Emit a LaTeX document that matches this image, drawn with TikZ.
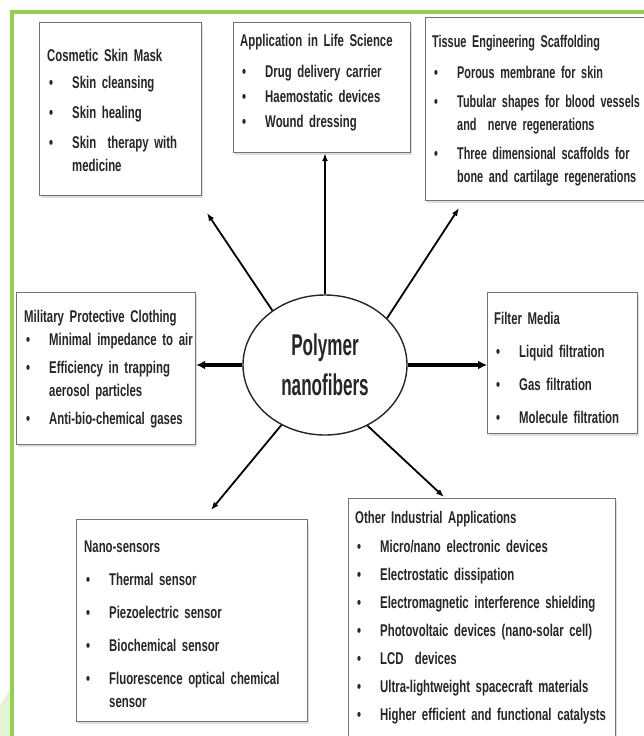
\documentclass[tikz,border=0pt]{standalone}
\usepackage{fontspec}
\setmainfont{Liberation Sans}[FakeStretch=0.67]
\newfontfamily\tissfont{Liberation Sans}[FakeStretch=0.64]
\newfontfamily\bigfont{Liberation Sans}[FakeStretch=0.57]
\usetikzlibrary{arrows.meta,shadows,shapes.geometric}
\definecolor{framegreen}{RGB}{146,208,80}
\newlength\tgap
\newlength\igap
\newcommand{\bodyfont}{\bfseries\fontsize{17}{23}\selectfont}
\newcommand{\itm}[1][\igap]{\par\vspace{#1}\noindent\makebox[25pt][l]{\hspace{2pt}\textbullet}}
\newcommand{\cnt}{\par\noindent\hspace*{25pt}}
\tikzset{
	box/.style={draw=black!55, line width=1.2pt, fill=white, anchor=north west, inner sep=0pt,
		drop shadow={shadow xshift=1.5pt, shadow yshift=-2pt, fill=black!25}},
	txt/.style={anchor=base west, inner sep=0pt, text width=280pt, text=black!85, font=\bodyfont},
	arr/.style={line width=1.8pt, -{Latex[length=8pt,width=6pt]}},
	bigarr/.style={line width=3.5pt, -{Latex[length=9pt,width=9pt]}},
}
\begin{document}
\begin{tikzpicture}[x=1pt,y=-1pt]
			\useasboundingbox (0,0) rectangle (644,736);
			\fill[white] (0,0) rectangle (644,736);
			% green frame
			\fill[framegreen!25] (0,705) -- (10,690) -- (10,736) -- (0,736) -- cycle;
			\draw[framegreen, line width=3.5pt] (644,12) -- (12,12) -- (12,736);
			% boxes
			\node[box, minimum width=162pt, minimum height=173pt] (cosm) at (39,22) {};
			\node[box, minimum width=177pt, minimum height=130pt] (life) at (233,22) {};
			\node[box, minimum width=230pt, minimum height=183pt] (tiss) at (425,17) {};
			\node[box, minimum width=179pt, minimum height=152pt] (mil) at (16,292) {};
			\node[box, minimum width=150pt, minimum height=141pt] (filt) at (487,292) {};
			\node[box, minimum width=231pt, minimum height=202pt] (nano) at (76,519) {};
			\node[box, minimum width=267pt, minimum height=245pt] (othr) at (348,498) {};
			% texts
			\node[txt] (cosmT) at (47,61) {\setlength\tgap{4pt}\setlength\igap{7pt}%
				Cosmetic Skin Mask\itm[\tgap]Skin cleansing\itm Skin healing\itm Skin\ \ therapy with\cnt medicine};
			\node[txt] (lifeT) at (240,46) {\setlength\tgap{8pt}\setlength\igap{2pt}%
				Application in Life Science\itm[\tgap]Drug delivery carrier\itm Haemostatic devices\itm Wound dressing};
			\node[txt, font=\tissfont\bodyfont] (tissT) at (432,47) {\setlength\tgap{8pt}\setlength\igap{6pt}%
				Tissue Engineering Scaffolding\itm[\tgap]Porous membrane for skin\itm Tubular shapes for blood vessels\cnt and\ \ nerve regenerations\itm Three dimensional scaffolds for\cnt bone and cartilage regenerations};
			\node[txt] (milT) at (24,322) {\setlength\tgap{0pt}\setlength\igap{5pt}%
				Military Protective Clothing\itm[\tgap]Minimal impedance to air\itm Efficiency in trapping\cnt aerosol particles\itm Anti-bio-chemical gases};
			\node[txt] (filtT) at (494,324) {\setlength\tgap{10pt}\setlength\igap{10pt}%
				Filter Media\itm[\tgap]Liquid filtration\itm Gas filtration\itm Molecule filtration};
			\node[txt] (nanoT) at (84,552) {\setlength\tgap{10pt}\setlength\igap{10pt}%
				Nano-sensors\itm[\tgap]Thermal sensor\itm Piezoelectric sensor\itm Biochemical sensor\itm Fluorescence optical chemical\cnt sensor};
			\node[txt] (othrT) at (355,523) {\setlength\tgap{6pt}\setlength\igap{5pt}%
				Other Industrial Applications\itm[\tgap]Micro/nano electronic devices\itm Electrostatic dissipation\itm Electromagnetic interference shielding\itm Photovoltaic devices (nano-solar cell)\itm LCD\ \ devices\itm Ultra-lightweight spacecraft materials\itm Higher efficient and functional catalysts};
			% centre
			\node[draw=black!85, line width=1.4pt, fill=white, ellipse, minimum width=164pt, minimum height=140pt, inner sep=0pt,
				align=center, text=black!85, font=\bigfont\bfseries\fontsize{30}{40}\selectfont] (poly) at (325,365) {Polymer\\nanofibers};
			% arrow ends
			\coordinate (tcosm) at (207,213);
			\coordinate (ttiss) at (459,208);
			\coordinate (tnano) at (211,510);
			\coordinate (tothr) at (444,497);
			\draw[arr] (poly.134) -- (tcosm);
			\draw[arr] (poly.north) -- (poly.north |- life.south);
			\draw[arr] (poly.37) -- (ttiss);
			\draw[bigarr] (poly.west) -- (poly.west -| mil.east);
			\draw[bigarr] (poly.east) -- (poly.east -| filt.west);
			\draw[arr] (poly.234) -- (tnano);
			\draw[arr] (poly.305) -- (tothr);
		\end{tikzpicture}
\end{document}
